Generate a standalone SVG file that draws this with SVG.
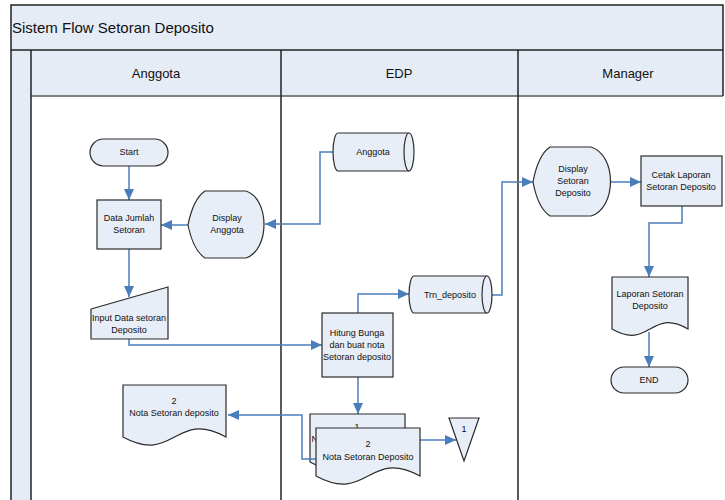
<svg xmlns="http://www.w3.org/2000/svg" width="725" height="500" viewBox="0 0 725 500">
  <defs>
    <marker id="arrow" markerUnits="userSpaceOnUse" markerWidth="12" markerHeight="10" refX="11" refY="5" orient="auto">
      <path d="M0,0 L11,5 L0,10 Z" fill="#4a7ebb"/>
    </marker>
    <style>
      .shape { fill: #e8eef7; stroke: #2b2b2b; stroke-width: 1.2; }
      .band { fill: #e6ecf6; }
      .frame { fill: none; stroke: #222; stroke-width: 1.5; }
      .conn { fill: none; stroke: #4a7ebb; stroke-width: 1.5; }
      .conn-a { fill: none; stroke: #4a7ebb; stroke-width: 1.5; marker-end: url(#arrow); }
      .t { font-family: "Liberation Sans", Arial, sans-serif; font-size: 9px; fill: #111; text-anchor: middle; }
      .h { font-family: "Liberation Sans", Arial, sans-serif; font-size: 13px; fill: #111; text-anchor: middle; }
      .title { font-family: "Liberation Sans", Arial, sans-serif; font-size: 15px; fill: #111; }
    </style>
  </defs>

  <rect width="725" height="500" fill="#ffffff"/>

  <!-- swimlane frame -->
  <g id="pool">
    <rect class="band" x="11" y="5" width="712" height="45"/>
    <rect class="band" x="11" y="50" width="20" height="450"/>
    <rect class="band" x="31" y="50" width="692" height="46"/>
    <line x1="31" y1="96" x2="723" y2="96" stroke="#808080" stroke-width="2"/>
    <path class="frame" d="M11,500 L11,5 L723,5 L723,96"/>
    <line class="frame" x1="11" y1="50" x2="723" y2="50"/>
    <line class="frame" x1="31" y1="50" x2="31" y2="500"/>
    <line class="frame" x1="281" y1="50" x2="281" y2="500"/>
    <line class="frame" x1="518" y1="50" x2="518" y2="500"/>
    <text class="title" x="12" y="33">Sistem Flow Setoran Deposito</text>
    <text class="h" x="156" y="78">Anggota</text>
    <text class="h" x="399" y="78">EDP</text>
    <text class="h" x="628" y="78">Manager</text>
  </g>

  <!-- connectors -->
  <g id="connectors">
    <path class="conn-a" d="M129,166 L129,200"/>
    <path class="conn-a" d="M188,225 L161,225"/>
    <path class="conn-a" d="M333,152 L320,152 L320,224 L265,224"/>
    <path class="conn-a" d="M129,249 L129,297"/>
    <path class="conn-a" d="M129,339 L129,345 L322,345"/>
    <path class="conn-a" d="M358,313 L358,294 L409,294"/>
    <path class="conn-a" d="M492,295 L502,295 L502,182 L533,182"/>
    <path class="conn-a" d="M611,182 L641,182"/>
    <path class="conn-a" d="M682,206 L682,223 L649,223 L649,277"/>
    <path class="conn-a" d="M649,332 L649,367"/>
    <path class="conn-a" d="M358,377 L358,414"/>
    <path class="conn-a" d="M420,440 L456,440"/>
  </g>

  <g id="start">
    <rect class="shape" x="90" y="139" width="78" height="27" rx="13.5"/>
    <text class="t" x="129" y="155">Start</text>
  </g>

  <g id="data-jumlah">
    <rect class="shape" x="97" y="200" width="64" height="49"/>
    <text class="t" x="129" y="221">Data Jumlah</text>
    <text class="t" x="129" y="233">Setoran</text>
  </g>

  <g id="display-anggota">
    <path class="shape" d="M188,225 C191,210 196,197 205,191 L246,191 C270,199 270,250 246,258 L205,258 C196,252 191,240 188,225 Z"/>
    <text class="t" x="227" y="221">Display</text>
    <text class="t" x="227" y="233">Anggota</text>
  </g>

  <g id="input-data">
    <path class="shape" d="M91,309 L168,287 L168,339 L91,339 Z"/>
    <text class="t" x="129" y="321">Input Data setoran</text>
    <text class="t" x="129" y="333">Deposito</text>
  </g>

  <g id="nota-anggota">
    <path class="shape" d="M123,385 L226,385 L226,437 C174.5,409 174.5,465 123,437 Z"/>
    <text class="t" x="174" y="404">2</text>
    <text class="t" x="174" y="416">Nota Setoran deposito</text>
  </g>

  <g id="db-anggota">
    <path class="shape" d="M338,133 L409,133 A5,19 0 0 1 409,171 L338,171 A5,19 0 0 1 338,133 Z"/>
    <path class="shape" d="M409,133 A5,19 0 0 0 409,171" fill="none"/>
    <text class="t" x="373" y="155">Anggota</text>
  </g>

  <g id="hitung-bunga">
    <rect class="shape" x="322" y="313" width="71" height="64"/>
    <text class="t" x="357" y="336">Hitung Bunga</text>
    <text class="t" x="357" y="348">dan buat nota</text>
    <text class="t" x="357" y="360">Setoran deposito</text>
  </g>

  <g id="db-trn-deposito">
    <path class="shape" d="M414,276 L487,276 A5,18.5 0 0 1 487,313 L414,313 A5,18.5 0 0 1 414,276 Z"/>
    <path class="shape" d="M487,276 A5,18.5 0 0 0 487,313" fill="none"/>
    <text class="t" x="450" y="298">Trn_deposito</text>
  </g>

  <g id="nota-1">
    <path class="shape" d="M310,414 L405,414 L405,462 C357.5,436 357.5,488 310,462 Z"/>
    <text class="t" x="357" y="430">1</text>
    <text class="t" x="357" y="442">Nota Setoran Deposito</text>
  </g>

  <g id="link-nota">
    <path class="conn-a" d="M316,459 L302,459 L302,415 L228,415"/>
  </g>

  <g id="nota-2">
    <path class="shape" d="M316,428 L420,428 L420,476 C368,448 368,504 316,476 Z"/>
    <text class="t" x="368" y="447">2</text>
    <text class="t" x="368" y="460">Nota Setoran Deposito</text>
  </g>

  <g id="offpage-1">
    <path class="shape" d="M449,418 L479,418 L464,461 Z"/>
    <text class="t" x="464" y="432">1</text>
  </g>

  <g id="display-setoran">
    <path class="shape" d="M533,182 C536,166 541,153 550,147 L591,147 C617,155 617,208 591,216 L550,216 C541,210 536,198 533,182 Z"/>
    <text class="t" x="573" y="172">Display</text>
    <text class="t" x="573" y="184">Setoran</text>
    <text class="t" x="573" y="196">Deposito</text>
  </g>

  <g id="cetak-laporan">
    <rect class="shape" x="641" y="156" width="81" height="50"/>
    <text class="t" x="681" y="178">Cetak Laporan</text>
    <text class="t" x="681" y="190">Setoran Deposito</text>
  </g>

  <g id="laporan">
    <path class="shape" d="M612,277 L688,277 L688,329 C650,307 650,351 612,329 Z"/>
    <text class="t" x="650" y="297">Laporan Setoran</text>
    <text class="t" x="650" y="309">Deposito</text>
  </g>

  <g id="end">
    <rect class="shape" x="611" y="367" width="77" height="26" rx="13"/>
    <text class="t" x="649" y="383">END</text>
  </g>
</svg>
